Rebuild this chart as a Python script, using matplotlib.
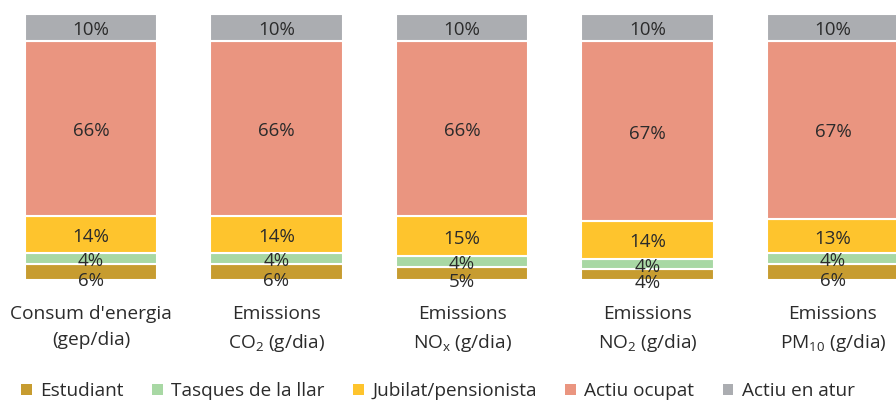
import numpy as np
import matplotlib.pyplot as plt
from matplotlib.patches import Patch

plt.rcParams['font.family'] = ['Open Sans', 'DejaVu Sans']
plt.rcParams['mathtext.fontset'] = 'custom'
plt.rcParams['mathtext.rm'] = 'Open Sans'
plt.rcParams['mathtext.it'] = 'Open Sans'

categories = ["Consum d'energia\n(gep/dia)",
              "Emissions\nCO$_2$ (g/dia)",
              "Emissions\nNO$_\\mathrm{x}$ (g/dia)",
              "Emissions\nNO$_2$ (g/dia)",
              "Emissions\nPM$_{10}$ (g/dia)"]
series = ["Estudiant", "Tasques de la llar", "Jubilat/pensionista", "Actiu ocupat", "Actiu en atur"]
estudiant = [6, 6, 5, 4, 6]
tasques = [4, 4, 4, 4, 4]
jubilat = [14, 14, 15, 14, 13]
ocupat = [66, 66, 66, 67, 67]
atur = [10, 10, 10, 10, 10]
colors = ["#C79C30", "#A8D8A4", "#FEC42D", "#EA9580", "#ABADB1"]
text_col = "#2b2b2b"

fig = plt.figure(figsize=(8.96, 4.0), dpi=100)
ax = fig.add_axes([0, 120 / 400, 1, 266 / 400])
ax.axis("off")

x = np.arange(len(categories))
w = 0.712
values = [estudiant, tasques, jubilat, ocupat, atur]
totals = np.sum(np.array(values, dtype=float), axis=0)
bottom = np.zeros(len(categories))
for i, (vals, col) in enumerate(zip(values, colors)):
    vals = np.array(vals, dtype=float)
    h = vals / totals * 100  # 100% stacked
    ax.bar(x, h, w, bottom=bottom, color=col, edgecolor="white", linewidth=1.5)
    for xi, b, hh, v in zip(x, bottom, h, vals):
        if i == 0:
            y = hh / 2 - 3.2
        else:
            y = b + hh / 2 - 1.0
        ax.text(xi, y, f"{int(v)}%", ha="center", va="center", fontsize=13.5,
                color=text_col, clip_on=False)
    bottom += h

for xi, lab in zip(x, categories):
    ax.text(xi, -9.3, lab, ha="center", va="top", fontsize=13.8, color=text_col,
            linespacing=1.6, clip_on=False)

ax.set_xlim(-91 / 185.5, (896 - 91) / 185.5)
ax.set_ylim(0, 100)

handles = [Patch(facecolor=c, edgecolor="none") for c in colors]
fig.legend(handles, series, loc="center", bbox_to_anchor=(0.489, 0.022), ncol=5,
           frameon=False, fontsize=13.7, handlelength=0.55, handleheight=0.55,
           handletextpad=0.45, columnspacing=1.5, labelcolor=text_col)

fig.savefig("out.png", dpi=100)
